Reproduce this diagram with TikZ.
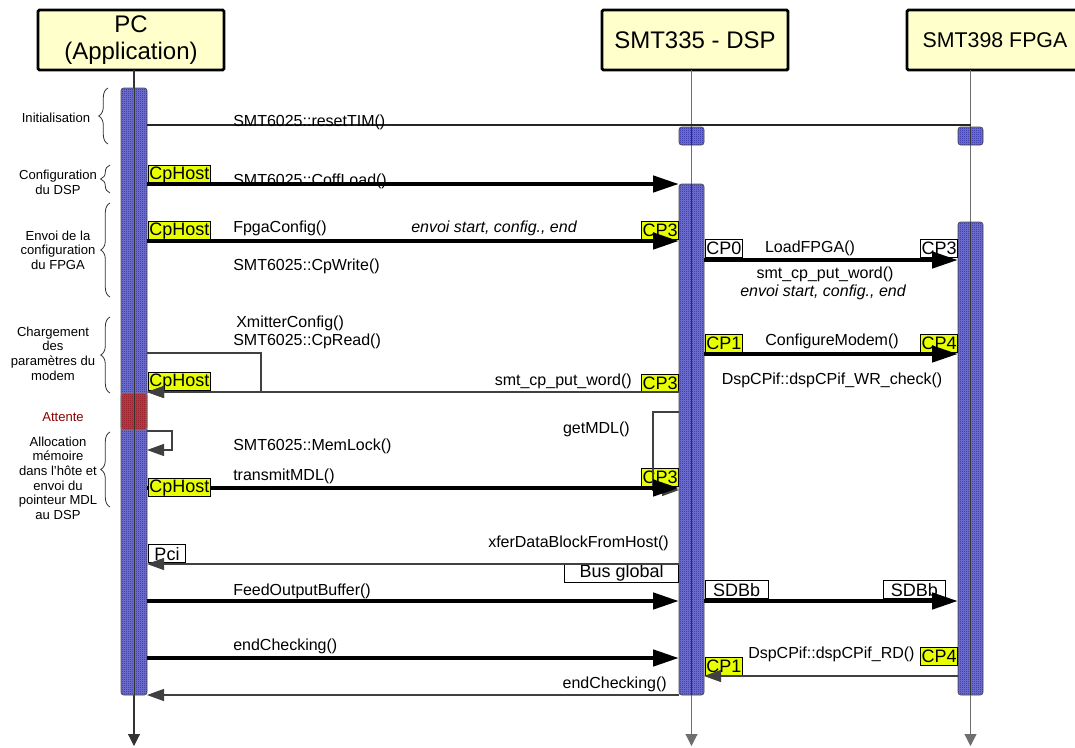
\documentclass[tikz,border=0pt]{standalone}
\usepackage{fontspec}
\setmainfont{Liberation Sans}
\usetikzlibrary{arrows.meta,decorations.pathreplacing,patterns.meta}
\definecolor{hdr}{RGB}{255,255,204}
\definecolor{lbl}{RGB}{232,255,0}
\definecolor{barblue}{RGB}{10,10,140}
\definecolor{barfill}{RGB}{120,120,215}
\definecolor{attred}{RGB}{140,0,0}
\definecolor{attfill}{RGB}{170,70,90}
\definecolor{lifegray}{RGB}{110,110,110}
\tikzdeclarepattern{name=checker, type=uncolored, bounding box={(0pt,0pt) and (1.5pt,1.5pt)}, tile size={(1.5pt,1.5pt)}, code={\fill (0pt,0pt) rectangle (0.75pt,0.75pt); \fill (0.75pt,0.75pt) rectangle (1.5pt,1.5pt);}}
\tikzset{
  hdrbox/.style={draw, line width=2.2pt, fill=hdr, rounded corners=1pt, font=\fontsize{18}{20}\selectfont, align=center, minimum height=45pt},
  barbox/.style={draw=black!70, line width=0.5pt, rounded corners=2pt, preaction={fill=barfill}, pattern=checker, pattern color=barblue},
  attbox/.style={draw=black!50, line width=0.4pt, rounded corners=2pt, preaction={fill=attfill}, pattern=checker, pattern color=attred},
  midline/.style={draw=black!80, line width=0.5pt},
  lifeline/.style={draw=lifegray, line width=0.8pt, -{Triangle[length=9pt,width=9pt]}},
  big/.style={line width=3.4pt, -{Triangle[length=19.5pt,width=12pt]}},
  ret/.style={draw=black!75, line width=0.8pt, -{Triangle[length=12.75pt,width=9pt]}},
  plain/.style={draw=black!85, line width=0.8pt},
  ylab/.style={draw, line width=0.5pt, fill=lbl, font=\fontsize{13.5}{14}\selectfont, inner xsep=0.8pt, inner ysep=0pt, minimum height=13.5pt, anchor=south west},
  wlab/.style={ylab, fill=white},
  msg/.style={font=\fontsize{12}{14}\selectfont, inner sep=0pt, anchor=base west},
  note/.style={font=\fontsize{9.8}{11}\selectfont, align=center, inner sep=0pt},
  brc/.style={draw=black!80, line width=0.6pt, decorate, decoration={brace, amplitude=7pt}}
}
\begin{document}
\begin{tikzpicture}[x=0.75pt,y=-0.75pt]
\useasboundingbox (0,0) rectangle (1075,747);
\clip (0,0) rectangle (1075,747);

% headers
\node[hdrbox, minimum width=139.5pt] (pc) at (131,40) {PC\\(Application)};
\node[hdrbox, minimum width=139.5pt] (dsp) at (695,40) {SMT335 - DSP};
\node[hdrbox, minimum width=132pt, font=\fontsize{16}{18}\selectfont] (fpga) at (995,40) {SMT398 FPGA};

% lifelines
\coordinate (pcTop) at (134,70);   \coordinate (pcEnd) at (134,746);
\coordinate (dspTop) at (691.5,70); \coordinate (dspEnd) at (691.5,746);
\coordinate (fpTop) at (970.5,70);  \coordinate (fpEnd) at (970.5,746);
\draw[lifeline, draw=black!80] (pcTop) -- (pcEnd);
\draw[lifeline] (dspTop) -- (dspEnd);
\draw[lifeline] (fpTop) -- (fpEnd);

% activation bars
\draw[barbox] (121,88) rectangle (147,695);
\draw[attbox] (121,393) rectangle (147,430);
\draw[barbox] (679,127) rectangle (704,145);
\draw[barbox] (679,184) rectangle (704,695);
\draw[barbox] (958,127) rectangle (983,145);
\draw[barbox] (958,222) rectangle (983,695);
\draw[midline] (134,88) -- (134,695);
\draw[midline] (691.5,127) -- (691.5,145);
\draw[midline] (691.5,184) -- (691.5,695);
\draw[midline] (970.5,127) -- (970.5,145);
\draw[midline] (970.5,222) -- (970.5,695);

% braces and notes
\draw[brc] (108,144) -- (108,88);
\node[note] (n1) at (56,118) {Initialisation};
\draw[brc] (110,193) -- (110,165);
\node[note] (n2) at (58,182) {Configuration\\du DSP};
\draw[brc] (110,297) -- (110,203);
\node[note] (n3) at (58,250) {Envoi de la\\configuration\\du FPGA};
\draw[brc] (110,393) -- (110,317);
\node[note] (n4) at (53,353.5) {Chargement\\des\\paramètres du\\modem};
\node[note, text=attred] (n5) at (63,417) {Attente};
\draw[brc] (110,507) -- (110,432);
\node[note] (n6) at (58,478) {Allocation\\mémoire\\dans l'hôte et\\envoi du\\pointeur MDL\\au DSP};

% labels (below lines)
\node[ylab] (cph1) at (148,184) {CpHost};
\node[ylab] (cph2) at (148,240) {CpHost};
\node[ylab, anchor=south east] (cp3a) at (679,240) {CP3};
\node[wlab] (cp0) at (705,258) {CP0};
\node[wlab, anchor=south east] (cp3b) at (958,258) {CP3};
\node[ylab] (cph3) at (148,391) {CpHost};
\node[ylab, anchor=south east] (cp3c) at (679,393) {CP3};
\node[ylab] (cp1a) at (705,353) {CP1};
\node[ylab, anchor=south east] (cp4a) at (958,353) {CP4};
\node[ylab, anchor=south east] (cp3d) at (679,487) {CP3};
\node[wlab, minimum width=28pt] (pci) at (148,563) {Pci};
\node[wlab, anchor=north east, minimum width=85.5pt] (bus) at (679,564) {Bus global};
\node[wlab, minimum width=47pt] (sdb1) at (705,599) {SDBb};
\node[wlab, minimum width=47pt, anchor=south east] (sdb2) at (946,599) {SDBb};
\node[ylab, anchor=south east] (cp4b) at (958,666) {CP4};
\node[ylab] (cp1b) at (705,676) {CP1};

% message coordinates
\coordinate (m1s) at (147,125);   \coordinate (m1e) at (970.5,125);
\coordinate (m2s) at (147,184);   \coordinate (m2e) at (679,184);
\coordinate (m3s) at (147,241);   \coordinate (m3e) at (679,241);
\coordinate (m4s) at (704,260);   \coordinate (m4e) at (958,260);
\coordinate (m5s) at (147,353);   \coordinate (m5a) at (261,353); \coordinate (m5b) at (261,392); \coordinate (m5e) at (147,392);
\coordinate (m6s) at (679,392);
\coordinate (m7s) at (704,354);   \coordinate (m7e) at (958,354);
\coordinate (m8s) at (147,431);   \coordinate (m8a) at (172,431); \coordinate (m8b) at (172,450); \coordinate (m8e) at (147,450);
\coordinate (m9s) at (679,412);   \coordinate (m9a) at (653,412); \coordinate (m9b) at (653,490); \coordinate (m9e) at (679,490);
\coordinate (m10s) at (147,488);  \coordinate (m10e) at (679,488);
\coordinate (m11s) at (679,564);  \coordinate (m11e) at (147,564);
\coordinate (m12s) at (147,601);  \coordinate (m12e) at (679,601);
\coordinate (m13s) at (704,601);  \coordinate (m13e) at (958,601);
\coordinate (m14s) at (147,658);  \coordinate (m14e) at (679,658);
\coordinate (m15s) at (958,676);  \coordinate (m15e) at (704,676);
\coordinate (m16s) at (679,695);  \coordinate (m16e) at (147,695);

% connectors
\draw[plain] (m1s) -- (m1e);
\draw[big] (m2s) -- (m2e);
\draw[big] (m3s) -- (m3e);
\draw[big] (m4s) -- (m4e);
\draw[ret] (m5s) -- (m5a) -- (m5b) -- (m5e);
\draw[ret] (m6s) -- (m5e);
\draw[big] (m7s) -- (m7e);
\draw[ret] (m8s) -- (m8a) -- (m8b) -- (m8e);
\draw[ret] (m9s) -- (m9a) -- (m9b) -- (m9e);
\draw[big] (m10s) -- (m10e);
\draw[ret] (m11s) -- (m11e);
\draw[big] (m12s) -- (m12e);
\draw[big] (m13s) -- (m13e);
\draw[big] (m14s) -- (m14e);
\draw[ret] (m15s) -- (m15e);
\draw[ret] (m16s) -- (m16e);

% label drawn over its line
\node[ylab] (cph4) at (148,497) {CpHost};

% message texts
\node[msg] (t1) at (233,126) {SMT6025::resetTIM()};
\node[msg] (t2) at (233,185) {SMT6025::CoffLoad()};
\node[msg] (t3) at (233,232) {FpgaConfig()};
\node[msg, font=\fontsize{12}{14}\selectfont\itshape] (t3b) at (411,232) {envoi start, config., end};
\node[msg] (t3c) at (233,270) {SMT6025::CpWrite()};
\node[msg, anchor=base] (t4) at (810,252) {LoadFPGA()};
\node[msg, anchor=base] (t4b) at (825,278) {smt\_cp\_put\_word()};
\node[msg, anchor=base, font=\fontsize{12}{14}\selectfont\itshape] (t4c) at (823,296) {envoi start, config., end};
\node[msg] (t5) at (236,327) {XmitterConfig()};
\node[msg] (t5b) at (233,345) {SMT6025::CpRead()};
\node[msg, anchor=base east] (t6) at (632,385) {smt\_cp\_put\_word()};
\node[msg, anchor=base] (t7) at (832,345) {ConfigureModem()};
\node[msg, anchor=base] (t7b) at (832,384) {DspCPif::dspCPif\_WR\_check()};
\node[msg] (t8) at (233,450) {SMT6025::MemLock()};
\node[msg, anchor=base east] (t9) at (630,433) {getMDL()};
\node[msg] (t10) at (233,480) {transmitMDL()};
\node[msg, anchor=base east] (t11) at (669,547) {xferDataBlockFromHost()};
\node[msg] (t12) at (233,595) {FeedOutputBuffer()};
\node[msg] (t14) at (233,650) {endChecking()};
\node[msg] (t15) at (748,658) {DspCPif::dspCPif\_RD()};
\node[msg, anchor=base east] (t16) at (667,688) {endChecking()};
\end{tikzpicture}
\end{document}
